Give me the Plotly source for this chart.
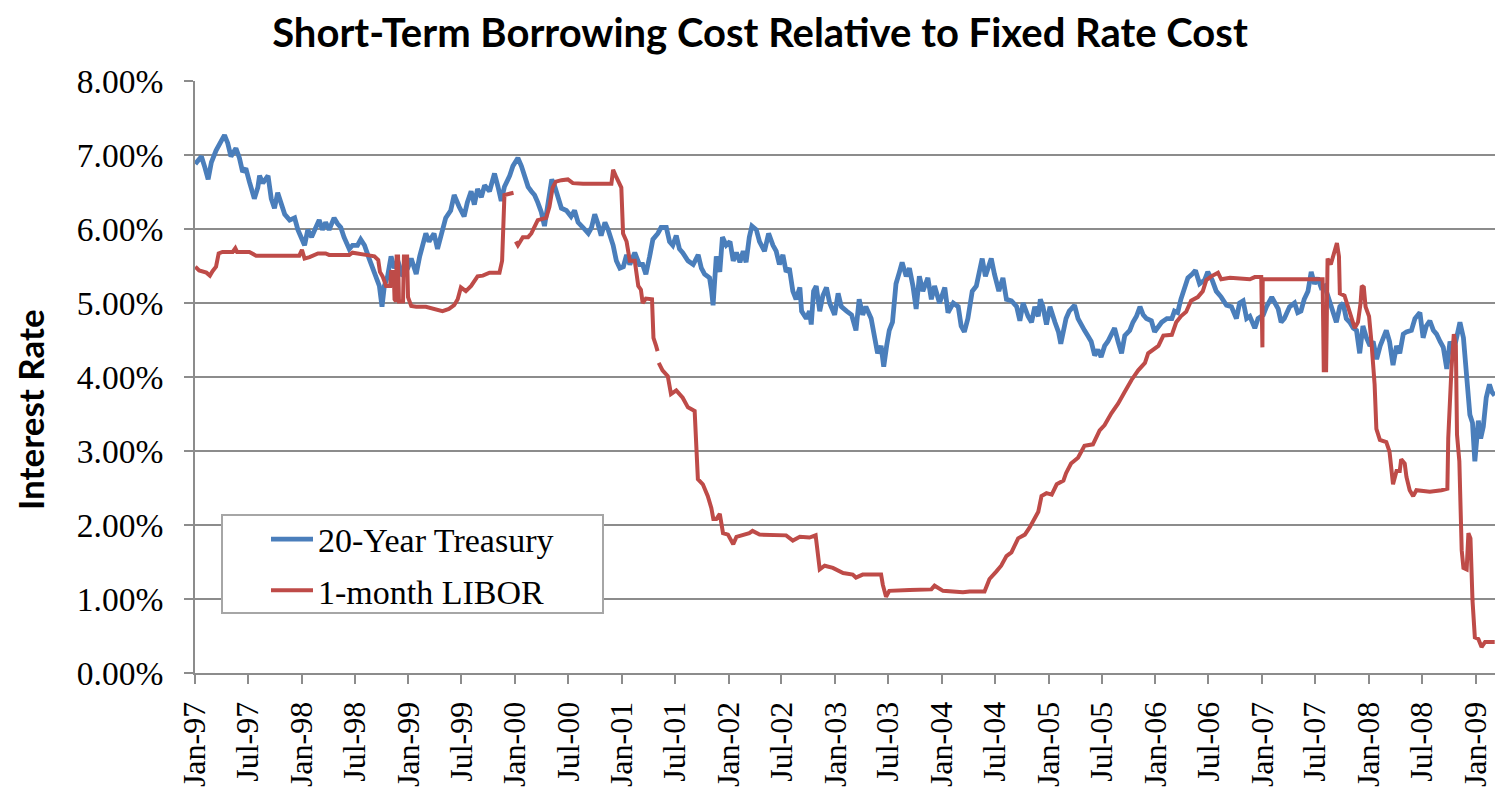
import plotly.graph_objects as go

# ---------------- data ----------------
treasury_dates = [
    "1997-01-02","1997-01-23","1997-02-04","1997-02-15","1997-02-26","1997-03-14","1997-04-01","1997-04-12","1997-04-23","1997-05-04",
    "1997-05-21","1997-06-02","1997-06-13","1997-06-24","1997-07-06","1997-07-23","1997-08-04","1997-08-10","1997-08-21","1997-09-08",
    "1997-09-19","1997-09-30","1997-10-11","1997-10-23","1997-11-04","1997-11-21","1997-12-08","1997-12-19","1997-12-31","1998-01-11",
    "1998-01-22","1998-02-04","1998-02-15","1998-03-02","1998-03-13","1998-03-24","1998-04-05","1998-04-22","1998-05-04","1998-05-15",
    "1998-05-26","1998-06-13","1998-06-24","1998-07-11","1998-07-22","1998-08-04","1998-08-20","1998-09-01","1998-09-12","1998-09-24",
    "1998-10-03","1998-10-11","1998-10-22","1998-11-03","1998-11-14","1998-11-26","1998-12-13","1998-12-30","1999-01-11","1999-01-28",
    "1999-02-09","1999-02-20","1999-03-02","1999-03-13","1999-03-30","1999-04-11","1999-04-28","1999-05-09","1999-05-26","1999-06-07",
    "1999-06-24","1999-07-11","1999-07-22","1999-08-04","1999-08-15","1999-08-26","1999-09-08","1999-09-19","1999-10-06","1999-10-23",
    "1999-11-04","1999-11-15","1999-11-26","1999-12-14","1999-12-25","2000-01-11","2000-01-23","2000-02-04","2000-02-15","2000-02-26",
    "2000-03-08","2000-03-19","2000-03-31","2000-04-11","2000-04-19","2000-04-28","2000-05-06","2000-05-15","2000-05-26","2000-06-08",
    "2000-06-25","2000-07-11","2000-07-23","2000-08-04","2000-08-21","2000-09-08","2000-09-19","2000-09-30","2000-10-11","2000-10-22",
    "2000-11-04","2000-11-15","2000-12-02","2000-12-13","2000-12-25","2001-01-06","2001-01-17","2001-01-28","2001-02-14","2001-03-02",
    "2001-03-13","2001-03-24","2001-04-06","2001-04-17","2001-05-04","2001-05-15","2001-06-02","2001-06-13","2001-06-24","2001-07-06",
    "2001-07-17","2001-07-28","2001-08-15","2001-09-02","2001-09-19","2001-09-30","2001-10-11","2001-10-28","2001-11-04","2001-11-09",
    "2001-11-20","2001-12-02","2001-12-11","2001-12-24","2002-01-06","2002-01-17","2002-01-28","2002-02-09","2002-02-20","2002-03-02",
    "2002-03-13","2002-03-22","2002-04-06","2002-04-17","2002-05-04","2002-05-18","2002-06-02","2002-06-13","2002-06-24","2002-07-06",
    "2002-07-17","2002-07-28","2002-08-09","2002-08-20","2002-09-02","2002-09-08","2002-09-24","2002-10-05","2002-10-11","2002-10-19",
    "2002-10-28","2002-11-09","2002-11-20","2002-12-02","2002-12-13","2002-12-30","2003-01-11","2003-01-22","2003-02-09","2003-02-26",
    "2003-03-13","2003-03-24","2003-04-05","2003-04-16","2003-05-04","2003-05-15","2003-05-26","2003-06-07","2003-06-16","2003-06-26",
    "2003-07-05","2003-07-16","2003-07-28","2003-08-09","2003-08-18","2003-09-01","2003-09-12","2003-09-24","2003-10-05","2003-10-16",
    "2003-10-28","2003-11-14","2003-11-26","2003-12-07","2003-12-24","2004-01-11","2004-01-22","2004-02-09","2004-02-26","2004-03-07",
    "2004-03-18","2004-03-30","2004-04-07","2004-04-14","2004-04-28","2004-05-09","2004-05-18","2004-05-29","2004-06-10","2004-06-18",
    "2004-06-29","2004-07-14","2004-07-28","2004-08-09","2004-08-26","2004-09-13","2004-09-24","2004-10-05","2004-10-22","2004-11-03",
    "2004-11-14","2004-11-26","2004-12-03","2004-12-12","2004-12-24","2005-01-05","2005-01-22","2005-02-03","2005-02-11","2005-02-20",
    "2005-03-01","2005-03-12","2005-03-30","2005-04-11","2005-04-22","2005-05-03","2005-05-14","2005-05-26","2005-06-07","2005-06-18",
    "2005-06-29","2005-07-11","2005-07-22","2005-08-03","2005-08-14","2005-08-26","2005-09-07","2005-09-18","2005-10-05","2005-10-16",
    "2005-10-28","2005-11-09","2005-11-20","2005-12-01","2005-12-18","2005-12-29","2006-01-11","2006-01-22","2006-02-09","2006-02-26",
    "2006-03-07","2006-03-18","2006-03-29","2006-04-11","2006-04-22","2006-05-07","2006-05-18","2006-06-01","2006-06-18","2006-06-29",
    "2006-07-14","2006-07-28","2006-08-14","2006-09-01","2006-09-18","2006-10-05","2006-10-16","2006-10-28","2006-11-09","2006-11-20",
    "2006-12-07","2006-12-18","2007-01-05","2007-01-16","2007-02-03","2007-02-14","2007-02-25","2007-03-07","2007-03-18","2007-04-05",
    "2007-04-22","2007-05-03","2007-05-14","2007-05-25","2007-06-07","2007-06-18","2007-06-29","2007-07-10","2007-07-22","2007-08-03",
    "2007-08-20","2007-09-01","2007-09-12","2007-09-24","2007-10-05","2007-10-16","2007-10-28","2007-11-09","2007-11-20","2007-12-01",
    "2007-12-12","2007-12-24","2008-01-05","2008-01-16","2008-01-28","2008-02-09","2008-02-20","2008-03-01","2008-03-12","2008-03-24",
    "2008-04-05","2008-04-16","2008-04-28","2008-05-09","2008-05-26","2008-06-07","2008-06-24","2008-07-05","2008-07-16","2008-07-28",
    "2008-08-09","2008-08-20","2008-09-01","2008-09-12","2008-09-24","2008-10-05","2008-10-16","2008-10-28","2008-11-08","2008-11-20",
    "2008-12-01","2008-12-07","2008-12-12","2008-12-21","2008-12-29","2009-01-10","2009-01-18","2009-01-27","2009-02-06","2009-02-17",
    "2009-02-25","2009-03-07",
]
treasury_rate = [
    6.88,6.98,6.83,6.67,6.90,7.06,7.19,7.27,7.16,6.98,
    7.09,6.96,6.77,6.82,6.64,6.41,6.56,6.72,6.62,6.72,
    6.41,6.28,6.49,6.36,6.20,6.12,6.15,5.99,5.89,5.78,
    5.99,5.89,5.99,6.12,5.99,6.09,5.99,6.15,6.07,6.02,
    5.89,5.73,5.78,5.78,5.86,5.78,5.60,5.47,5.36,5.23,
    4.95,5.23,5.36,5.63,5.47,5.57,5.36,5.47,5.60,5.39,
    5.63,5.78,5.94,5.83,5.94,5.73,5.99,6.15,6.25,6.46,
    6.30,6.17,6.36,6.51,6.33,6.54,6.43,6.59,6.51,6.75,
    6.57,6.38,6.57,6.72,6.85,6.96,6.85,6.70,6.57,6.51,
    6.46,6.36,6.23,6.04,6.25,6.51,6.67,6.59,6.46,6.28,
    6.25,6.17,6.25,6.09,6.02,5.94,6.02,6.20,6.07,5.91,
    6.09,5.99,5.78,5.57,5.47,5.49,5.65,5.52,5.68,5.52,
    5.52,5.39,5.63,5.86,5.94,6.02,6.02,5.83,5.78,5.91,
    5.73,5.68,5.57,5.52,5.65,5.47,5.39,5.34,5.16,4.97,
    5.63,5.42,5.89,5.78,5.83,5.57,5.68,5.55,5.70,5.55,
    5.89,6.04,5.99,5.83,5.70,5.94,5.78,5.70,5.52,5.65,
    5.42,5.47,5.16,5.05,5.21,4.89,4.79,4.89,4.71,5.16,
    5.23,4.89,5.10,5.21,5.00,4.84,5.13,4.95,4.89,4.84,
    4.63,5.05,4.84,4.95,4.79,4.53,4.32,4.42,4.14,4.42,
    4.63,4.74,5.26,5.42,5.55,5.36,5.47,5.23,4.92,5.36,
    5.16,5.34,5.05,5.23,5.00,5.21,4.87,5.00,4.95,4.69,
    4.61,4.79,5.00,5.16,5.23,5.42,5.60,5.36,5.52,5.60,
    5.39,5.16,5.34,5.05,5.03,4.95,4.76,5.00,4.82,4.74,
    4.95,4.82,5.05,4.95,4.71,4.95,4.74,4.61,4.45,4.63,
    4.79,4.89,4.97,4.79,4.69,4.63,4.56,4.48,4.29,4.37,
    4.27,4.42,4.48,4.58,4.66,4.48,4.32,4.56,4.63,4.74,
    4.82,4.95,4.84,4.79,4.76,4.61,4.69,4.74,4.79,4.79,
    4.89,4.87,5.05,5.23,5.34,5.39,5.44,5.26,5.31,5.42,
    5.31,5.16,5.08,4.97,4.95,4.79,5.00,5.03,4.79,4.82,
    4.66,4.79,4.84,4.95,5.08,5.00,4.92,4.74,4.79,4.95,
    5.00,4.87,4.89,5.05,5.16,5.42,5.26,5.34,5.21,5.23,
    5.00,4.89,4.74,4.95,5.00,4.79,4.74,4.66,4.63,4.32,
    4.69,4.53,4.42,4.48,4.24,4.42,4.53,4.63,4.48,4.16,
    4.42,4.32,4.58,4.61,4.63,4.79,4.87,4.53,4.69,4.76,
    4.63,4.58,4.48,4.40,4.11,4.48,4.32,4.58,4.74,4.53,
    4.01,3.75,3.49,3.38,2.86,3.41,3.17,3.33,3.72,3.90,
    3.80,3.75,
]

libor_dates = [
    "1997-01-02","1997-01-15","1997-02-09","1997-02-21","1997-03-02","1997-03-14","1997-03-23","1997-04-05","1997-05-10","1997-05-19",
    "1997-05-25","1997-07-06","1997-07-29","1997-12-24","1998-01-02","1998-01-11","1998-01-28","1998-02-26","1998-03-24","1998-04-05",
    "1998-06-13","1998-06-24","1998-08-09","1998-09-07","1998-09-20","1998-09-26","1998-10-05","1998-10-17","1998-10-31","1998-11-03",
    "1998-11-12","1998-11-15","1998-11-20","1998-11-22","1998-11-27","1998-11-30","1998-12-14","1998-12-17","1998-12-28","1998-12-31",
    "1999-01-11","1999-01-28","1999-03-02","1999-03-24","1999-04-28","1999-05-20","1999-06-07","1999-06-19","1999-06-30","1999-07-17",
    "1999-08-04","1999-08-26","1999-09-13","1999-10-06","1999-11-09","1999-11-18","1999-11-26","1999-12-27","1999-12-30","2000-01-04",
    "2000-01-11","2000-01-28","2000-02-15","2000-02-26","2000-03-08","2000-03-19","2000-04-17","2000-04-28","2000-05-09","2000-05-20",
    "2000-06-08","2000-06-30","2000-07-17","2000-08-21","2000-11-26","2000-12-02","2000-12-13","2000-12-30","2001-01-05","2001-01-17",
    "2001-01-28","2001-02-14","2001-02-26","2001-03-07","2001-03-13","2001-03-24","2001-04-14","2001-04-19","2001-04-28","2001-05-03",
    "2001-05-05","2001-05-07","2001-05-20","2001-06-07","2001-06-18","2001-07-06","2001-07-28","2001-08-15","2001-09-07","2001-09-18",
    "2001-10-05","2001-10-22","2001-11-03","2001-11-10","2001-11-20","2001-12-02","2001-12-13","2001-12-30","2002-01-17","2002-01-28",
    "2002-02-20","2002-03-13","2002-03-24","2002-04-17","2002-07-17","2002-08-09","2002-09-02","2002-10-05","2002-10-26","2002-11-09",
    "2002-11-26","2002-12-24","2003-01-28","2003-03-02","2003-03-13","2003-04-05","2003-06-07","2003-06-13","2003-06-24","2003-07-05",
    "2003-09-12","2003-11-26","2003-12-07","2004-01-05","2004-03-13","2004-04-05","2004-05-26","2004-06-12","2004-07-05","2004-07-22",
    "2004-08-09","2004-08-26","2004-09-18","2004-10-11","2004-10-28","2004-11-14","2004-11-26","2004-12-07","2004-12-24","2005-01-11",
    "2005-01-28","2005-02-20","2005-03-01","2005-03-18","2005-04-11","2005-05-03","2005-06-01","2005-06-24","2005-07-11","2005-08-03",
    "2005-08-26","2005-09-18","2005-10-11","2005-11-03","2005-11-26","2005-12-07","2005-12-24","2006-01-11","2006-01-28","2006-02-26",
    "2006-03-13","2006-03-29","2006-04-16","2006-05-03","2006-05-26","2006-06-12","2006-06-24","2006-07-11","2006-08-03","2006-08-14",
    "2006-09-13","2006-11-20","2006-12-07","2006-12-29","2007-01-02","2007-01-03","2007-07-27","2007-07-31","2007-08-08","2007-08-11",
    "2007-08-13","2007-08-24","2007-09-06","2007-09-14","2007-09-21","2007-09-24","2007-10-10","2007-10-21","2007-11-02","2007-11-14",
    "2007-11-25","2007-12-04","2007-12-08","2007-12-15","2007-12-21","2008-01-02","2008-01-10","2008-01-21","2008-01-27","2008-02-08",
    "2008-03-01","2008-03-12","2008-03-24","2008-04-05","2008-04-16","2008-04-21","2008-05-03","2008-05-09","2008-05-20","2008-06-01",
    "2008-06-12","2008-07-28","2008-09-06","2008-09-26","2008-09-29","2008-10-04","2008-10-10","2008-10-18","2008-10-25","2008-10-29",
    "2008-11-06","2008-11-14","2008-11-20","2008-12-01","2008-12-07","2008-12-14","2008-12-21","2008-12-29","2009-01-10","2009-01-21",
    "2009-02-02","2009-03-07",
]
libor_rate = [
    5.49,5.44,5.41,5.37,5.43,5.49,5.67,5.69,5.69,5.74,
    5.69,5.69,5.64,5.64,5.72,5.60,5.62,5.67,5.67,5.65,
    5.65,5.68,5.65,5.63,5.58,5.42,5.36,5.23,5.23,5.42,
    5.42,5.05,5.02,5.63,5.63,5.02,5.02,5.63,5.63,5.08,
    4.96,4.95,4.95,4.93,4.89,4.92,4.97,5.05,5.21,5.16,
    5.23,5.36,5.37,5.41,5.41,5.57,6.46,6.49,None,5.83,
    5.78,5.89,5.89,5.94,6.02,6.12,6.15,6.30,6.56,6.64,
    6.66,6.67,6.62,6.61,6.61,6.80,6.70,6.56,5.94,5.83,
    5.57,5.57,5.23,5.18,5.00,5.06,5.05,4.53,4.42,4.35,
    None,4.19,4.09,4.01,3.77,3.82,3.72,3.59,3.54,2.62,
    2.55,2.39,2.23,2.08,2.08,2.15,1.89,1.87,1.74,1.84,
    1.87,1.89,1.92,1.87,1.86,1.79,1.84,1.83,1.86,1.40,
    1.45,1.42,1.35,1.33,1.29,1.33,1.33,1.19,1.03,1.11,
    1.12,1.13,1.18,1.11,1.09,1.10,1.10,1.27,1.37,1.45,
    1.58,1.63,1.82,1.87,1.97,2.08,2.18,2.39,2.43,2.41,
    2.55,2.60,2.70,2.83,2.91,3.07,3.09,3.28,3.35,3.51,
    3.64,3.80,3.96,4.09,4.19,4.32,4.37,4.42,4.56,4.57,
    4.74,4.82,4.88,5.03,5.08,5.16,5.31,5.36,5.41,5.32,
    5.34,5.32,5.35,5.35,4.40,5.32,5.32,4.09,4.09,5.31,
    5.60,5.52,5.73,5.81,5.63,5.13,5.10,4.95,4.79,4.66,
    4.74,5.00,5.23,5.21,4.95,4.82,4.48,3.90,3.30,3.15,
    3.12,2.99,2.55,2.73,2.73,2.89,2.83,2.65,2.47,2.39,
    2.47,2.45,2.47,2.49,3.17,3.69,4.11,4.58,4.42,3.22,
    2.86,1.66,1.42,1.40,1.89,1.82,0.98,0.48,0.46,0.35,
    0.42,0.42,
]

series_names = ["20-Year Treasury", "1-month LIBOR"]
series_colors = ["#4A7EBB", "#BE4B48"]
title_text = "Short-Term Borrowing Cost Relative to Fixed Rate Cost"
y_title = "Interest Rate"

# ---------------- figure ----------------
# The page body has an 8px margin, so the figure is 8px smaller than the window.
W, H = 1496, 788
L, R, T, B = 187, 9, 73, 123
PW, PH = W - L - R, H - T - B   # 1300 x 592

serif = "Liberation Serif, Times New Roman, serif"
sans_bold = "Lato, Open Sans, sans-serif"

fig = go.Figure()
fig.add_trace(go.Scatter(
    x=treasury_dates, y=treasury_rate, mode="lines", name=series_names[0],
    line=dict(color=series_colors[0], width=4.8), legendgroup="a",
))
fig.add_trace(go.Scatter(
    x=libor_dates, y=libor_rate, mode="lines", name=series_names[1],
    line=dict(color=series_colors[1], width=4), connectgaps=False, legendgroup="b",
))

def px_x(x):  # screenshot x -> paper
    return (x - 8 - L) / PW

def px_y(y):  # screenshot y -> paper
    return (T + PH - (y - 8)) / PH

grid = "#8C8C8C"
fig.update_layout(
    width=W, height=H,
    margin=dict(l=L, r=R, t=T, b=B, autoexpand=False),
    paper_bgcolor="white", plot_bgcolor="white",
    title=dict(text=title_text, x=(760 - 8) / W, xanchor="center", y=1 - (33 - 8) / H, yanchor="middle",
               font=dict(family=sans_bold, size=40, color="black", weight="bold")),
    xaxis=dict(
        type="date", range=["1997-01-01", "2009-03-08"],
        tick0="1997-01-01", dtick="M6", tickformat="%b-%y", tickangle=-90,
        ticks="outside", ticklen=9, tickcolor=grid, tickwidth=1.5,
        showline=True, linecolor=grid, linewidth=2, showgrid=False, zeroline=False,
        tickfont=dict(family=serif, size=32, color="black"), ticklabelstandoff=5,
    ),
    yaxis=dict(
        range=[0, 8], dtick=1, tickformat=".2f", ticksuffix="%",
        ticks="outside", ticklen=9, tickcolor=grid, tickwidth=1.5,
        showline=True, linecolor=grid, linewidth=2,
        showgrid=True, gridcolor=grid, gridwidth=1.5, zeroline=False,
        tickfont=dict(family=serif, size=33.5, color="black"), ticklabelstandoff=14,
    ),
    legend=dict(x=px_x(266), y=px_y(565), xanchor="left", yanchor="middle",
                bgcolor="rgba(0,0,0,0)", borderwidth=0, tracegroupgap=4, itemwidth=42,
                font=dict(family=serif, size=34, color="black")),
    shapes=[dict(type="rect", xref="paper", yref="paper",
                 x0=px_x(222), x1=px_x(603), y0=px_y(613), y1=px_y(515),
                 line=dict(color="#A6A6A6", width=2), fillcolor="white", layer="above")],
    annotations=[dict(text=y_title, textangle=-90, xref="paper", yref="paper",
                      x=px_x(30), y=px_y(410), xanchor="center", yanchor="middle",
                      showarrow=False, font=dict(family=sans_bold, size=35, color="black", weight="bold"))],
)

fig.write_html("out.html")
